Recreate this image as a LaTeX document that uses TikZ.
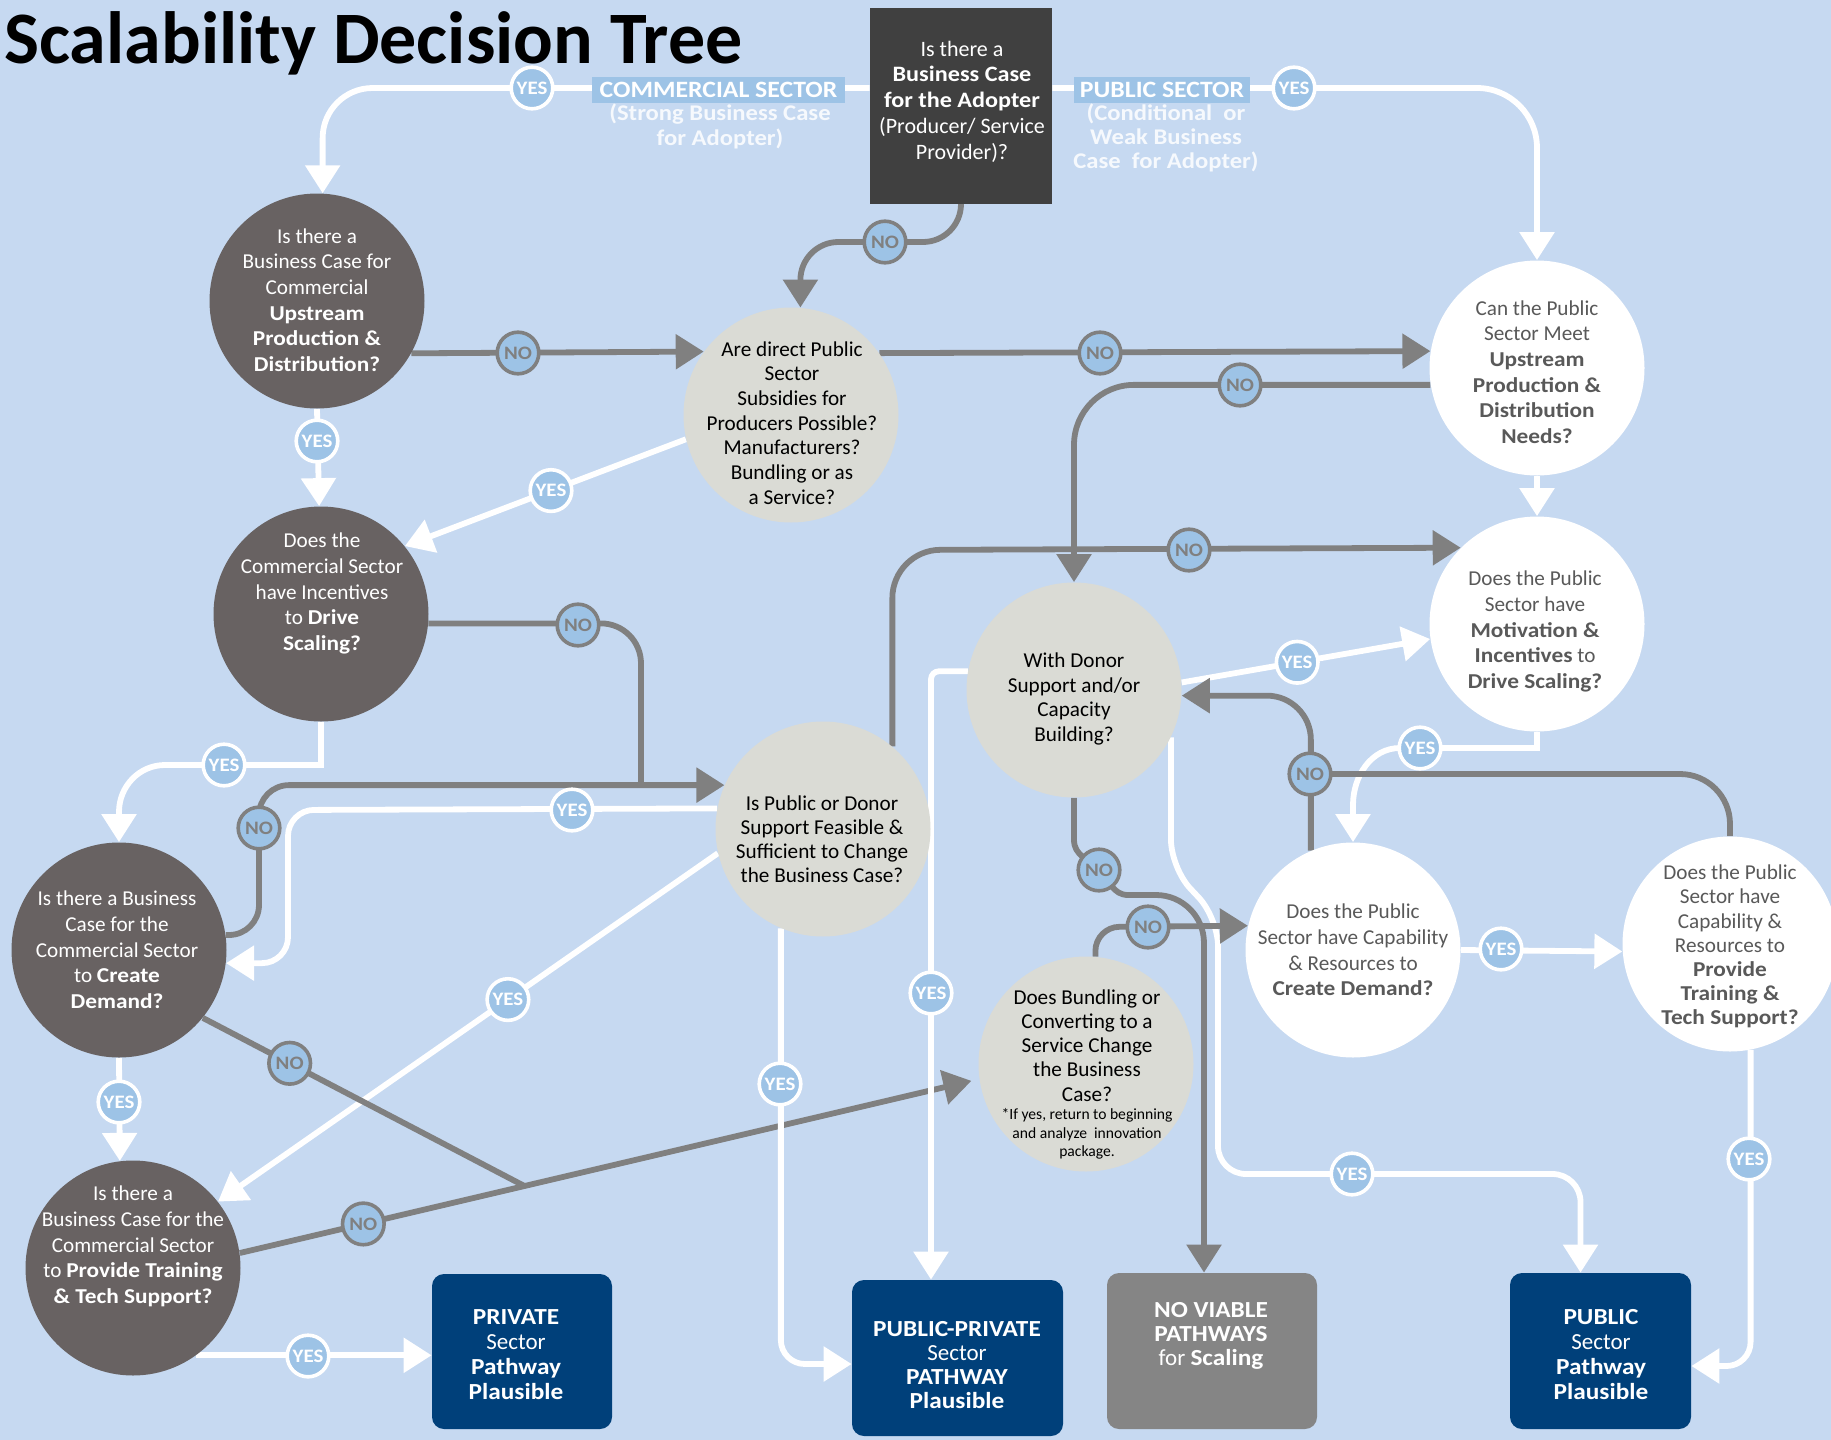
\documentclass[tikz,border=0pt]{standalone}
\usepackage{fontspec}
\setmainfont{Carlito}[BoldFeatures={FakeStretch=1.1}]
\newfontfamily\titlefont{Carlito}
\usetikzlibrary{arrows.meta,calc}
\definecolor{bgblue}{RGB}{198,217,241}
\definecolor{lblue}{RGB}{157,195,230}
\definecolor{dgray}{RGB}{104,98,98}
\definecolor{lgray}{RGB}{218,219,213}
\definecolor{boxgray}{RGB}{64,64,64}
\definecolor{boxnavy}{RGB}{0,64,122}
\definecolor{nvgray}{RGB}{133,133,133}
\definecolor{linegray}{RGB}{128,128,128}
\definecolor{tgray}{RGB}{89,89,89}
\colorlet{paletext}{white!85!bgblue}
\pgfdeclarelayer{back}\pgfdeclarelayer{lines}\pgfsetlayers{back,lines,main}
\begin{document}
\begin{tikzpicture}[x=0.5pt,y=-0.5pt,
 circ/.style={circle, minimum size=107.5pt, inner sep=0pt},
 dcirc/.style={circ, fill=dgray},
 gcirc/.style={circ, fill=lgray},
 wcirc/.style={circ, fill=white},
 ctext/.style={align=center, inner sep=0pt, font=\fontsize{10.6}{12.85}\selectfont},
 lab/.style={circle, minimum size=20.8pt, inner sep=0pt, fill=lblue, line width=1.8pt, font=\fontsize{9.5}{10}\selectfont\bfseries},
 yeslab/.style={lab, draw=white, text=white},
 nolab/.style={lab, draw=linegray, text=linegray},
 wl/.style={draw=white, line width=2.9pt},
 gl/.style={draw=linegray, line width=2.9pt},
 arr/.style={-{Triangle[length=14pt,width=17pt]}},
 endbox/.style={rounded corners=6pt, fill=boxnavy, inner sep=0pt},
 btext/.style={align=center, inner sep=0pt, text=white, font=\fontsize{11.5}{12.5}\selectfont},
 seclab/.style={fill=lblue, minimum height=13pt, inner sep=0pt, text=white, font=\fontsize{11.7}{12}\selectfont\bfseries},
]
\begin{pgfonlayer}{back}
\fill[bgblue] (0,0) rectangle (1831,1440);
\end{pgfonlayer}
\useasboundingbox (0,0) rectangle (1831,1440);

\node[anchor=base west, inner sep=0pt, font=\titlefont\bfseries\fontsize{37}{40}\selectfont] (title) at (4,63) {Scalability Decision Tree};

% top box
\node[rectangle, fill=boxgray, minimum width=91pt, minimum height=98pt, inner sep=0pt] (top) at (961,106) {};
\node[ctext, text=white, font=\fontsize{11}{12.85}\selectfont] (topt) at (962,101.5) {Is there a\\\textbf{Business Case}\\\textbf{for the Adopter}\\(Producer/ Service\\Provider)?};

% sector labels
\node[seclab, minimum width=126.5pt] (csec) at (718.5,90) {COMMERCIAL SECTOR};
\node[ctext, text=paletext, font=\fontsize{11.2}{12.5}\selectfont\bfseries] (csect) at (720,126.5) {(Strong Business Case\\for Adopter)};
\node[seclab, minimum width=88pt] (psec) at (1162,90) {PUBLIC SECTOR};
\node[ctext, text=paletext, font=\fontsize{11.2}{12}\selectfont\bfseries] (psect) at (1166,138) {(Conditional\ \ or\\Weak Business\\Case\ \ for Adopter)};

% circles
\node[dcirc] (c1) at (317,301) {};
\node[ctext, text=white] (c1t) at (317,300) {Is there a\\Business Case for\\Commercial\\\textbf{Upstream}\\\textbf{Production \&}\\\textbf{Distribution?}};

\node[gcirc] (sub) at (791,415) {};
\node[ctext, font=\fontsize{10.6}{12.35}\selectfont] (subt) at (792,423) {Are direct Public\\Sector\\Subsidies for\\Producers Possible?\\Manufacturers?\\Bundling or as\\a Service?};

\node[wcirc] (pm) at (1537,368) {};
\node[ctext, text=tgray] (pmt) at (1537,372) {Can the Public\\Sector Meet\\\textbf{Upstream}\\\textbf{Production \&}\\\textbf{Distribution}\\\textbf{Needs?}};

\node[dcirc] (c2) at (321,614) {};
\node[ctext, text=white] (c2t) at (322,593.5) {Does the\\Commercial Sector\\have Incentives\\to \textbf{Drive}\\\textbf{Scaling?}};

\node[wcirc] (mo) at (1537,624) {};
\node[ctext, text=tgray] (mot) at (1535,631.5) {Does the Public\\Sector have\\\textbf{Motivation \&}\\\textbf{Incentives} to\\\textbf{Drive Scaling?}};

\node[gcirc] (F) at (823,829) {};
\node[ctext, font=\fontsize{10.6}{12}\selectfont] (Ft) at (822,839) {Is Public or Donor\\Support Feasible \&\\Sufficient to Change\\the Business Case?};

\node[gcirc] (D) at (1074,690) {};
\node[ctext, font=\fontsize{10.6}{12.35}\selectfont] (Dt) at (1074,699) {With Donor\\Support and/or\\Capacity\\Building?};

\node[dcirc] (c3) at (119,950) {};
\node[ctext, text=white] (c3t) at (117,950) {Is there a Business\\Case for the\\Commercial Sector\\to \textbf{Create}\\\textbf{Demand?}};

\node[wcirc] (pc) at (1353,950) {};
\node[ctext, text=tgray] (pct) at (1353,950) {Does the Public\\Sector have Capability\\\& Resources to\\\textbf{Create Demand?}};

\node[wcirc] (pt) at (1730,944) {};
\node[ctext, text=tgray, font=\fontsize{10.6}{12.1}\selectfont] (ptt) at (1730,946.5) {Does the Public\\Sector have\\Capability \&\\Resources to\\\textbf{Provide}\\\textbf{Training \&}\\\textbf{Tech Support?}};

\node[gcirc] (B) at (1086,1064) {};
\node[ctext, font=\fontsize{10.6}{12.1}\selectfont] (Bt) at (1087,1045.5) {Does Bundling or\\Converting to a\\Service Change\\the Business\\Case?};
\node[ctext, font=\fontsize{7.8}{9.25}\selectfont] (Bn) at (1087,1134) {*If yes, return to beginning\\and analyze\ \ innovation\\package.};

\node[dcirc] (c4) at (133,1268) {};
\node[ctext, text=white] (c4t) at (133,1246.5) {Is there a\\Business Case for the\\Commercial Sector\\to \textbf{Provide Training}\\\textbf{\& Tech Support?}};

% end boxes
\node[endbox, minimum width=90pt, minimum height=77.5pt] (priv) at (522,1351.5) {};
\node[btext] (privt) at (516,1354.5) {\textbf{PRIVATE}\\Sector\\\textbf{Pathway}\\\textbf{Plausible}};
\node[endbox, minimum width=105.5pt, minimum height=78pt] (pp) at (957.5,1358) {};
\node[btext, font=\fontsize{11.5}{12}\selectfont] (ppt) at (957,1365) {\textbf{PUBLIC-PRIVATE}\\Sector\\\textbf{PATHWAY}\\\textbf{Plausible}};
\node[endbox, fill=nvgray, minimum width=105pt, minimum height=78pt] (nv) at (1212,1351) {};
\node[btext, font=\fontsize{11.5}{12}\selectfont] (nvt) at (1211,1336) {\textbf{NO VIABLE}\\\textbf{PATHWAYS}\\for \textbf{Scaling}};
\node[endbox, minimum width=90.5pt, minimum height=78pt] (pub) at (1600.5,1351) {};
\node[btext] (pubt) at (1601,1354.5) {\textbf{PUBLIC}\\Sector\\\textbf{Pathway}\\\textbf{Plausible}};

% helper coordinates
\coordinate (j1) at ($(c4.8)!0.385!(B.188.6)$);
\coordinate (j2) at (641,786);
\coordinate (w1) at (288,810);
\coordinate (w2) at (780,1364);
\coordinate (w3) at (1171,868);
\coordinate (w4) at (1218,918);
\coordinate (w6) at (165,765);
\coordinate (w7) at (119,812);
\coordinate (w8) at (1400,748);
\coordinate (w9) at (1353,805);
\coordinate (w10) at (1074,840);
\coordinate (w11) at (1128,895);
\coordinate (pubin) at ([xshift=-10pt]pub.north);
\coordinate (pubr) at ([yshift=-7.5pt]pub.east);
\coordinate (nvin) at ([xshift=-4pt]nv.north);

% labels
\node[yeslab] (y1) at (532,88) {YES};
\node[yeslab] (y2) at (1294,88) {YES};
\node[nolab] (n1) at (885,242) {NO};
\node[nolab] (n2) at (518,353) {NO};
\node[nolab] (n3) at (1100,353) {NO};
\node[nolab] (n4) at (1240,385) {NO};
\node[yeslab] (y3) at (317,441) {YES};
\node[yeslab] (y4) at ($(sub.193.7)!0.48!(c2.39.8)$) {YES};
\node[nolab] (n5) at (578,625) {NO};
\node[yeslab] (y5) at (224,765) {YES};
\node[nolab] (n6) at (259,828) {NO};
\node[yeslab] (y6) at (572,810) {YES};
\node[nolab] (n7) at (1189,550) {NO};
\node[yeslab] (y7) at ($(D.4.8)!0.465!(mo.188.5)$) {YES};
\node[yeslab] (y8) at (1420,748) {YES};
\node[nolab] (n8) at (1310,774) {NO};
\node[nolab] (n9) at (1099,870) {NO};
\node[nolab] (n10) at (1148,927) {NO};
\node[yeslab] (y9) at (931,993) {YES};
\node[yeslab] (y10) at (780,1084) {YES};
\node[yeslab] (y11) at ($(F.193.1)!0.42!(c4.38)$) {YES};
\node[yeslab] (y12) at (119,1102) {YES};
\node[nolab] (n11) at ($(c3.-39.3)!0.27!(j1)$) {NO};
\node[nolab] (n12) at ($(c4.8)!0.167!(B.188.6)$) {NO};
\node[yeslab] (y13) at (308,1356) {YES};
\node[yeslab] (y14) at (1501,949) {YES};
\node[yeslab] (y15) at (1749,1159) {YES};
\node[yeslab] (y16) at (1352,1174) {YES};

\begin{pgfonlayer}{lines}
% top box exits
\draw[wl,arr,rounded corners=25pt] (top.west |- y1.center) -- (c1.87 |- y1.center) -- (c1.87);
\draw[wl,arr,rounded corners=30pt] (top.east |- y2.center) -- (pm.north |- y2.center) -- (pm.north);
\draw[gl,arr,rounded corners=19pt] (top.south) -- (top.south |- n1.center) -- (sub.85 |- n1.center) -- (sub.85);
% row 1
\draw[gl,arr] (c1.-29) -- (sub.144.6);
\draw[gl,arr] (sub.35.4) -- (pm.171.9);
\draw[gl,arr,rounded corners=30pt] (pm.189.1) -- (D.north |- pm.189.1) -- (D.north);
\draw[wl,arr] (pm.south) -- (mo.north);
\draw[wl,arr] (c1.south) -- (c2.91.6);
\draw[wl,arr] (sub.193.7) -- (c2.39.8);
% commercial side
\draw[gl,rounded corners=20pt] (c2.-5.9) -- (c2.-5.9 -| j2) -- (j2);
\draw[gl,arr,rounded corners=15pt] (c3.8) -- (n6.center |- c3.8) -- (n6.center |- F.156.4) -- (F.156.4);
\draw[wl,arr,rounded corners=13pt] (F.169.8) -- (w1) -- (w1 |- c3.-7.5) -- (c3.-7.5);
\draw[wl,arr] (F.193.1) -- (c4.38);
\draw[wl,arr] (c2.south) |- (w6) to[out=180,in=90] (w7) -- (c3.north);
\draw[wl,arr] (c3.south) -- (c4.97.5);
\draw[gl] (c3.-39.3) -- (j1);
\draw[gl,arr,shorten >=4pt] (c4.8) -- (B.188.6);
\draw[wl,arr] (c4.-54.9) -- (priv.west |- c4.-54.9);
\draw[wl,arr,rounded corners=12pt] (F.-113.6) -- (F.-113.6 |- w2) -- (pp.west |- w2);
% donor / public side
\draw[gl,arr,rounded corners=24pt] (F.50.8) -- (F.50.8 |- n7.center) -- (mo.135.8);
\draw[wl,arr,rounded corners=4pt] (D.170.9) -- (y9.center |- D.170.9) -- (y9.center |- pp.north);
\draw[wl,arr] (D.4.8) -- (mo.188.5);
\draw[wl,arr,rounded corners=14pt] (D.-26.7) -- (w3) -- (w4) -- (w4 |- y16.center) -- (pubin |- y16.center) -- (pubin);
\draw[gl] (D.south) -- (w10) to[out=-90,in=135] (n9.center) to[out=-45,in=180] (w11);
\draw[gl,arr,rounded corners=24pt] (w11) -- (nvin |- w11) -- (nvin);
\draw[gl,arr,rounded corners=12pt] (B.85.2) -- (B.85.2 |- n10.center) -- (pc.167.6);
\draw[wl,arr] (mo.south) |- (w8) to[out=180,in=90] (w9) -- (pc.north);
\draw[wl,arr] (pc.east) -- (pt.184.8);
\draw[wl,arr,rounded corners=12pt] (pt.-79.8) -- (pt.-79.8 |- pubr) -- (pubr);
\draw[gl,rounded corners=25pt] (pt.north) |- (n8.center);
\draw[gl,arr,rounded corners=22pt] (pc.113.6) -- (pc.113.6 |- D.-3.7) -- (D.-3.7);
\end{pgfonlayer}
\end{tikzpicture}
\end{document}
